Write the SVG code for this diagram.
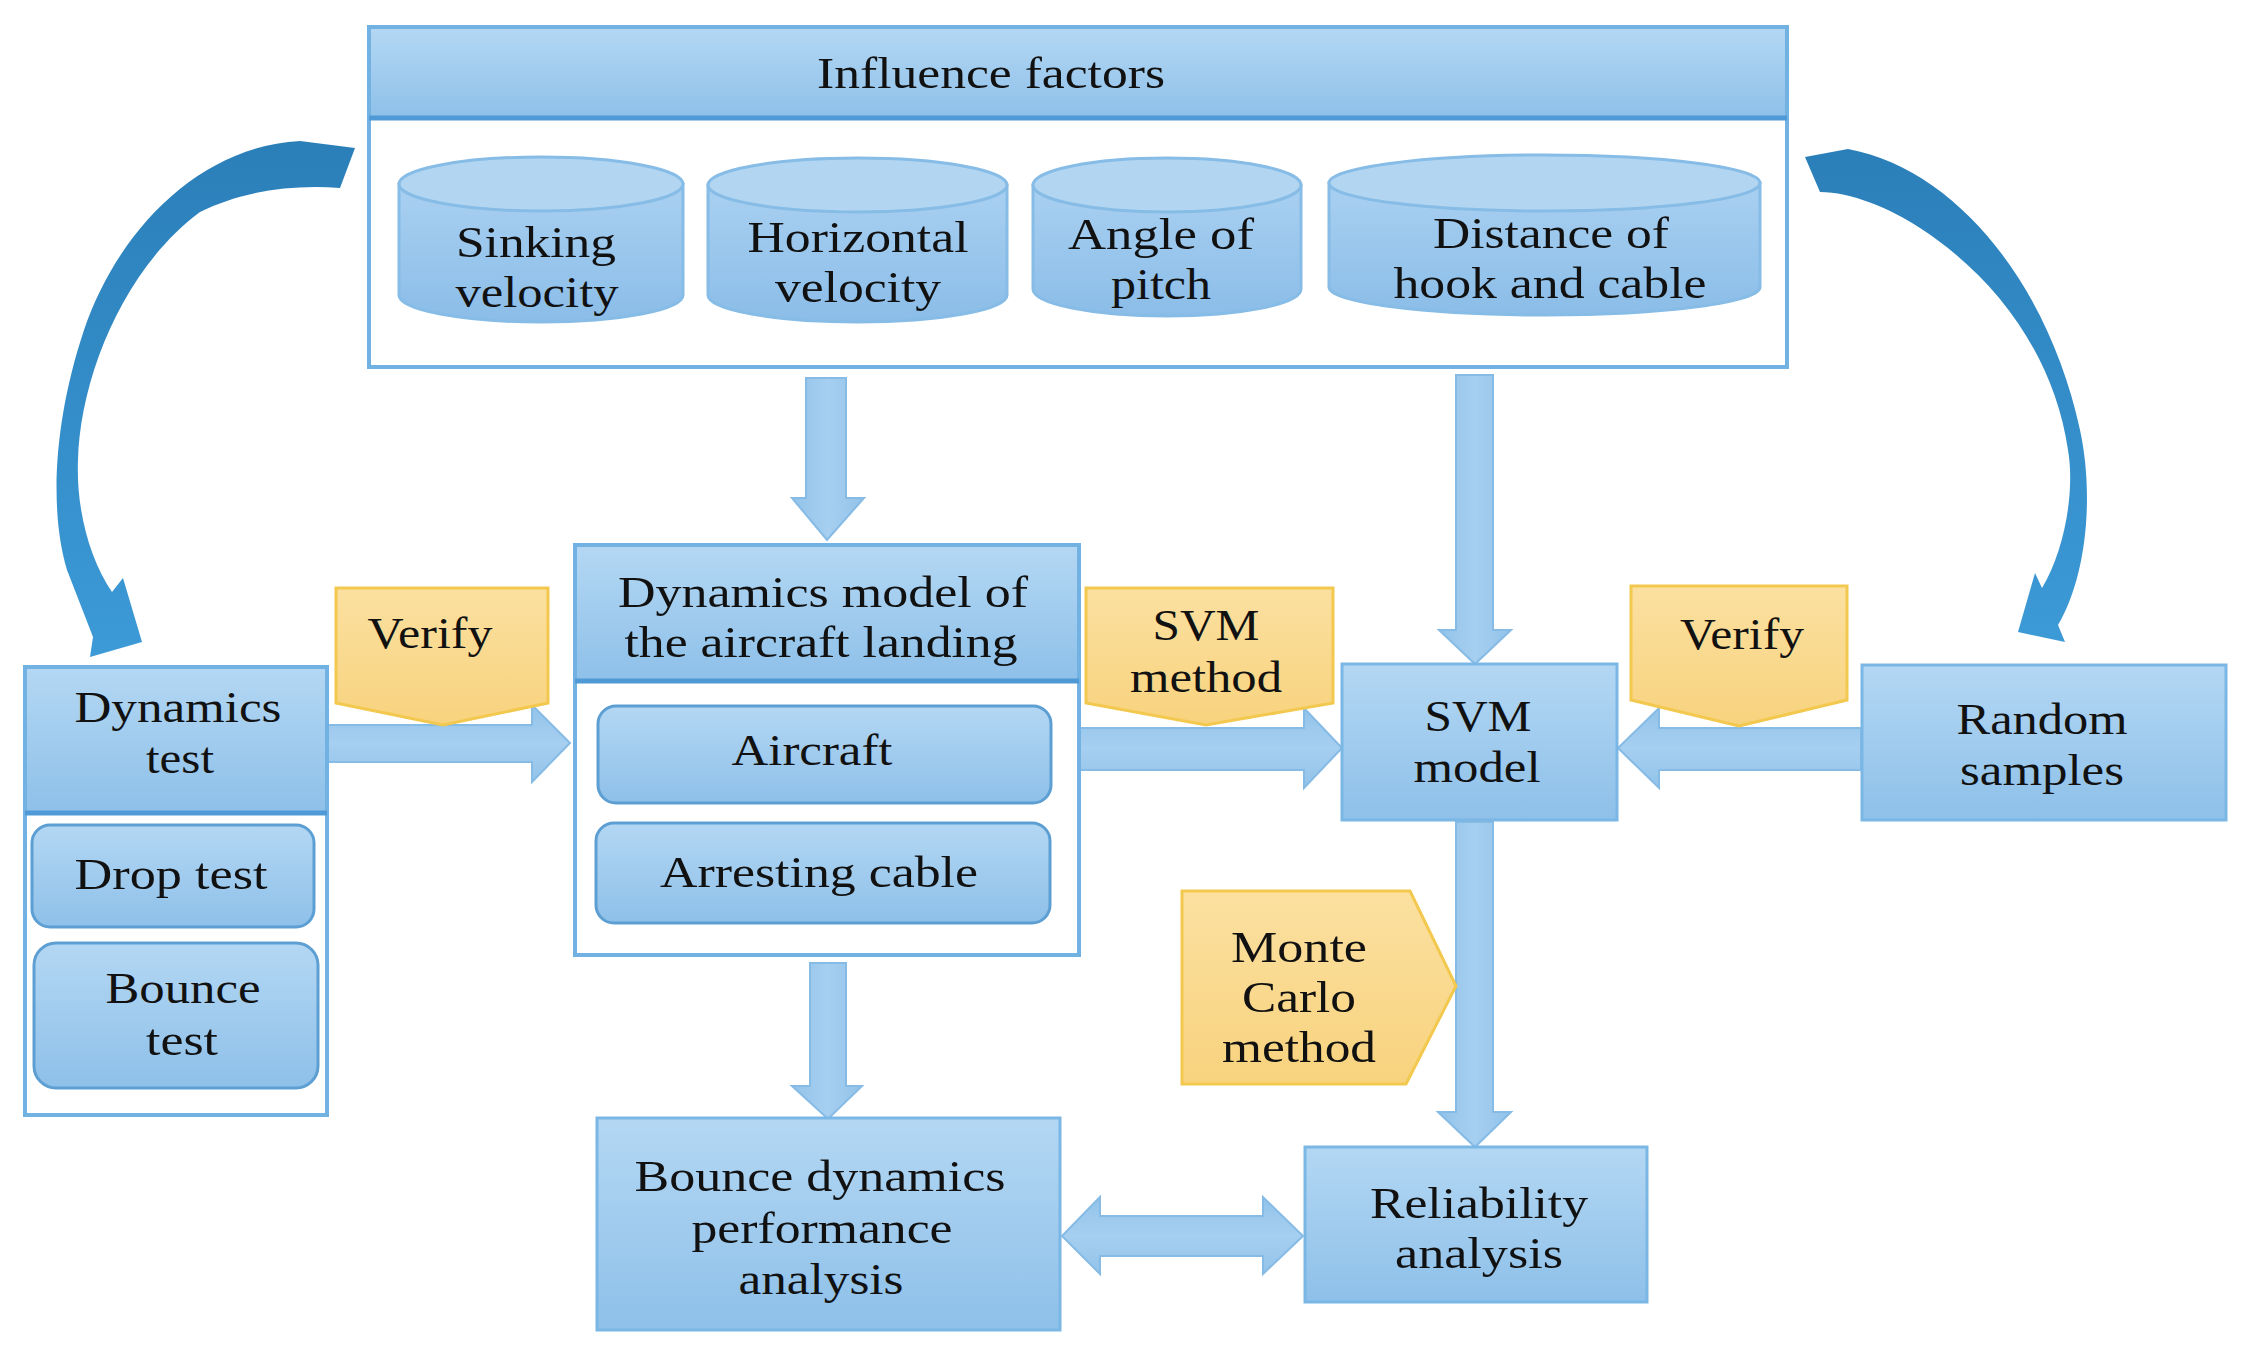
<svg xmlns="http://www.w3.org/2000/svg" width="2247" height="1352" viewBox="0 0 2247 1352">
<defs>
<linearGradient id="gBox" x1="0" y1="0" x2="0" y2="1">
<stop offset="0" stop-color="#b3d7f3"/><stop offset="1" stop-color="#8ec0e9"/>
</linearGradient>
<linearGradient id="gTag" x1="0" y1="0" x2="0" y2="1">
<stop offset="0" stop-color="#fbe0a0"/><stop offset="1" stop-color="#f8d37e"/>
</linearGradient>
<linearGradient id="gCyl" x1="0" y1="0" x2="0" y2="1">
<stop offset="0" stop-color="#a9d0f1"/><stop offset="1" stop-color="#8bbde8"/>
</linearGradient>
<linearGradient id="gCurve" x1="0" y1="0" x2="0" y2="1">
<stop offset="0" stop-color="#2b7fb9"/><stop offset="1" stop-color="#3c9ad7"/>
</linearGradient>
<linearGradient id="gArrV" x1="0" y1="0" x2="1" y2="0">
<stop offset="0" stop-color="#92c3ea"/><stop offset="0.5" stop-color="#a6cff0"/><stop offset="1" stop-color="#92c3ea"/>
</linearGradient>
<linearGradient id="gArrH" x1="0" y1="0" x2="0" y2="1">
<stop offset="0" stop-color="#92c3ea"/><stop offset="0.5" stop-color="#a6cff0"/><stop offset="1" stop-color="#92c3ea"/>
</linearGradient>
</defs>
<style>
.frame{fill:#ffffff;stroke:#72b2e3;stroke-width:4}
.box{fill:url(#gBox);stroke:#7ab7e5;stroke-width:3}
.hline{stroke:#4f9ad6;stroke-width:5}
.rr{fill:url(#gBox);stroke:#5d9fd3;stroke-width:3}
.cyl{fill:url(#gCyl);stroke:#86bce6;stroke-width:3}
.cyltop{fill:#b2d6f2;stroke:#86bce6;stroke-width:3}
.tag{fill:url(#gTag);stroke:#f3c84e;stroke-width:3}
.av{fill:url(#gArrV);stroke:#86bbe5;stroke-width:2}
.ah{fill:url(#gArrH);stroke:#86bbe5;stroke-width:2}
.curve{fill:url(#gCurve);stroke:none}
.t{font-family:"Liberation Serif","Times New Roman",serif;font-size:45px;fill:#111111;text-anchor:middle}
</style>
<rect width="2247" height="1352" fill="#ffffff"/>

<g id="connectors">
<path class="curve" d="M355,148 L300,141 C200,146 118,230 84,330 C54,420 49,510 67,570 L93,637 L90,657 L142,642 L123,578 L112,592 C90,560 76,510 78,460 C80,380 122,270 200,212 C240,192 290,184 340,188 Z"/>
<path class="curve" d="M1805,157 L1848,149 C1960,170 2050,290 2080,430 C2095,500 2085,580 2058,625 L2065,642 L2018,632 L2035,573 L2042,588 C2065,550 2075,490 2068,450 C2055,360 2000,280 1920,228 C1890,208 1850,192 1820,192 Z"/>
<path class="av" d="M806,378 L846,378 L846,498 L864,498 L827,540 L792,498 L806,498 Z"/>
<path class="av" d="M1456,375 L1493,375 L1493,630 L1511,630 L1475,664 L1439,630 L1456,630 Z"/>
<path class="av" d="M810,963 L846,963 L846,1086 L862,1086 L828,1119 L792,1086 L810,1086 Z"/>
<path class="av" d="M1456,822 L1493,822 L1493,1112 L1511,1112 L1475,1147 L1438,1112 L1456,1112 Z"/>
<path class="ah" d="M327,725 L532,725 L532,705 L570,743 L532,782 L532,762 L327,762 Z"/>
<path class="ah" d="M1079,728 L1304,728 L1304,708 L1342,748 L1304,788 L1304,770 L1079,770 Z"/>
<path class="ah" d="M1861,728 L1659,728 L1659,708 L1618,748 L1659,788 L1659,770 L1861,770 Z"/>
<path class="ah" d="M1062,1236 L1100,1197 L1100,1216 L1263,1216 L1263,1197 L1303,1236 L1263,1274 L1263,1256 L1100,1256 L1100,1274 Z"/>
</g>

<g id="influence-factors">
<rect class="frame" x="369" y="27" width="1418" height="340"/>
<rect x="371" y="29" width="1414" height="89" fill="url(#gBox)"/>
<line class="hline" x1="369" y1="118" x2="1787" y2="118"/>
<text class="t" x="991" y="88" textLength="348" lengthAdjust="spacingAndGlyphs">Influence factors</text>
</g>

<g id="sinking-velocity">
<path class="cyl" d="M399,184 L399,295 A142,27 0 0 0 683,295 L683,184 Z"/>
<ellipse class="cyltop" cx="541" cy="184" rx="142" ry="27"/>
<text class="t" x="536" y="257" textLength="160" lengthAdjust="spacingAndGlyphs">Sinking</text>
<text class="t" x="537" y="307" textLength="163" lengthAdjust="spacingAndGlyphs">velocity</text>
</g>

<g id="horizontal-velocity">
<path class="cyl" d="M708,185 L708,295 A149.5,27 0 0 0 1007,295 L1007,185 Z"/>
<ellipse class="cyltop" cx="857.5" cy="185" rx="149.5" ry="27"/>
<text class="t" x="858" y="252" textLength="221" lengthAdjust="spacingAndGlyphs">Horizontal</text>
<text class="t" x="858" y="302" textLength="166" lengthAdjust="spacingAndGlyphs">velocity</text>
</g>

<g id="angle-of-pitch">
<path class="cyl" d="M1033,185 L1033,289 A134,27 0 0 0 1301,289 L1301,185 Z"/>
<ellipse class="cyltop" cx="1167" cy="185" rx="134" ry="27"/>
<text class="t" x="1161" y="249" textLength="186" lengthAdjust="spacingAndGlyphs">Angle of</text>
<text class="t" x="1161" y="299" textLength="100" lengthAdjust="spacingAndGlyphs">pitch</text>
</g>

<g id="distance-hook-cable">
<path class="cyl" d="M1329,183 L1329,287 A215.5,28 0 0 0 1760,287 L1760,183 Z"/>
<ellipse class="cyltop" cx="1544.5" cy="183" rx="215.5" ry="28"/>
<text class="t" x="1551" y="248" textLength="236" lengthAdjust="spacingAndGlyphs">Distance of</text>
<text class="t" x="1550" y="298" textLength="313" lengthAdjust="spacingAndGlyphs">hook and cable</text>
</g>

<g id="dynamics-test">
<rect class="frame" x="25" y="667" width="302" height="448"/>
<rect x="27" y="669" width="298" height="144" fill="url(#gBox)"/>
<line class="hline" x1="25" y1="813" x2="327" y2="813"/>
<text class="t" x="178" y="722" textLength="207" lengthAdjust="spacingAndGlyphs">Dynamics</text>
<text class="t" x="180" y="773" textLength="68" lengthAdjust="spacingAndGlyphs">test</text>
</g>

<g id="drop-test">
<rect class="rr" x="32" y="825" width="282" height="102" rx="18"/>
<text class="t" x="171" y="889" textLength="193" lengthAdjust="spacingAndGlyphs">Drop test</text>
</g>

<g id="bounce-test">
<rect class="rr" x="34" y="943" width="284" height="145" rx="22"/>
<text class="t" x="183" y="1003" textLength="155" lengthAdjust="spacingAndGlyphs">Bounce</text>
<text class="t" x="182" y="1055" textLength="72" lengthAdjust="spacingAndGlyphs">test</text>
</g>

<g id="verify-left">
<path class="tag" d="M336,588 L548,588 L548,703 L443,725 L336,703 Z"/>
<text class="t" x="430" y="648" textLength="125" lengthAdjust="spacingAndGlyphs">Verify</text>
</g>

<g id="dynamics-model">
<rect class="frame" x="575" y="545" width="504" height="410"/>
<rect x="577" y="547" width="500" height="134" fill="url(#gBox)"/>
<line class="hline" x1="575" y1="681" x2="1079" y2="681"/>
<text class="t" x="823" y="607" textLength="410" lengthAdjust="spacingAndGlyphs">Dynamics model of</text>
<text class="t" x="821" y="657" textLength="393" lengthAdjust="spacingAndGlyphs">the aircraft landing</text>
</g>

<g id="aircraft">
<rect class="rr" x="598" y="706" width="453" height="97" rx="18"/>
<text class="t" x="812" y="765" textLength="161" lengthAdjust="spacingAndGlyphs">Aircraft</text>
</g>

<g id="arresting-cable">
<rect class="rr" x="596" y="823" width="454" height="100" rx="18"/>
<text class="t" x="819" y="887" textLength="318" lengthAdjust="spacingAndGlyphs">Arresting cable</text>
</g>

<g id="svm-method">
<path class="tag" d="M1086,588 L1333,588 L1333,703 L1206,725 L1086,703 Z"/>
<text class="t" x="1206" y="640" textLength="107" lengthAdjust="spacingAndGlyphs">SVM</text>
<text class="t" x="1206" y="692" textLength="152" lengthAdjust="spacingAndGlyphs">method</text>
</g>

<g id="svm-model">
<rect class="box" x="1342" y="664" width="275" height="156"/>
<text class="t" x="1478" y="731" textLength="107" lengthAdjust="spacingAndGlyphs">SVM</text>
<text class="t" x="1477" y="782" textLength="127" lengthAdjust="spacingAndGlyphs">model</text>
</g>

<g id="verify-right">
<path class="tag" d="M1631,586 L1847,586 L1847,700 L1739,726 L1631,700 Z"/>
<text class="t" x="1742" y="649" textLength="124" lengthAdjust="spacingAndGlyphs">Verify</text>
</g>

<g id="random-samples">
<rect class="box" x="1862" y="665" width="364" height="155"/>
<text class="t" x="2042" y="734" textLength="171" lengthAdjust="spacingAndGlyphs">Random</text>
<text class="t" x="2042" y="785" textLength="164" lengthAdjust="spacingAndGlyphs">samples</text>
</g>

<g id="monte-carlo">
<path class="tag" d="M1182,891 L1410,891 L1456,986 L1406,1084 L1182,1084 Z"/>
<text class="t" x="1299" y="962" textLength="136" lengthAdjust="spacingAndGlyphs">Monte</text>
<text class="t" x="1299" y="1012" textLength="114" lengthAdjust="spacingAndGlyphs">Carlo</text>
<text class="t" x="1299" y="1062" textLength="154" lengthAdjust="spacingAndGlyphs">method</text>
</g>

<g id="bounce-dynamics">
<rect class="box" x="597" y="1118" width="463" height="212"/>
<text class="t" x="820" y="1191" textLength="371" lengthAdjust="spacingAndGlyphs">Bounce dynamics</text>
<text class="t" x="822" y="1243" textLength="261" lengthAdjust="spacingAndGlyphs">performance</text>
<text class="t" x="821" y="1294" textLength="165" lengthAdjust="spacingAndGlyphs">analysis</text>
</g>

<g id="reliability">
<rect class="box" x="1305" y="1147" width="342" height="155"/>
<text class="t" x="1479" y="1218" textLength="218" lengthAdjust="spacingAndGlyphs">Reliability</text>
<text class="t" x="1479" y="1268" textLength="168" lengthAdjust="spacingAndGlyphs">analysis</text>
</g>
</svg>
